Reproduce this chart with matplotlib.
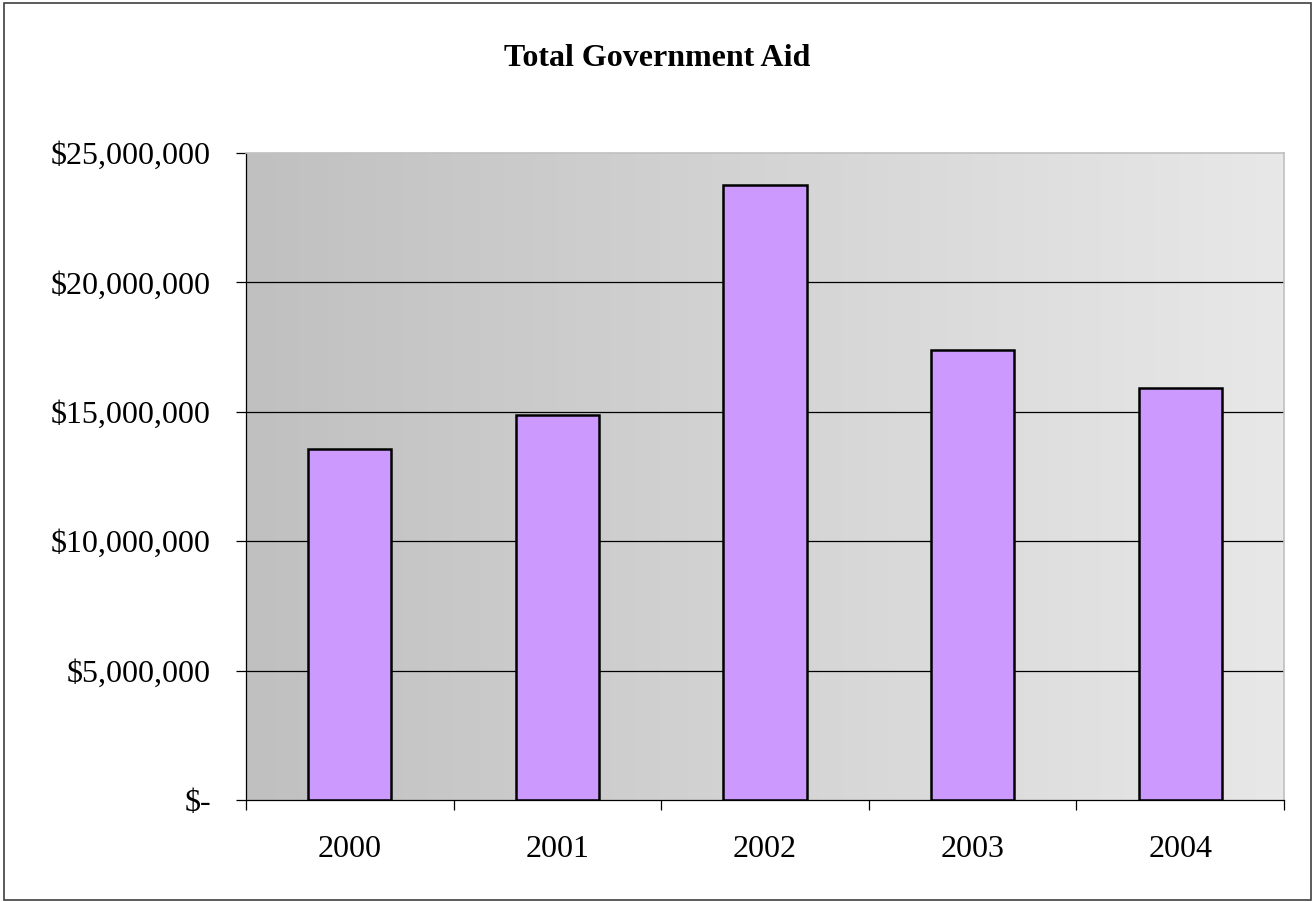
import numpy as np
import matplotlib
matplotlib.use("Agg")
import matplotlib.pyplot as plt
from matplotlib.ticker import FuncFormatter, FixedLocator
from matplotlib.patches import Rectangle

years = ["2000", "2001", "2002", "2003", "2004"]
aid = [13560000, 14890000, 23770000, 17380000, 15910000]
yticks = [0, 5000000, 10000000, 15000000, 20000000, 25000000]

plt.rcParams["font.family"] = ["Liberation Serif", "DejaVu Serif"]

fig = plt.figure(figsize=(13.15, 9.02), dpi=100)
ax = fig.add_axes([246/1315, 1 - 800/902, 1038/1315, 647/902])

x = np.arange(len(years))
ax.set_xlim(-0.5, len(years) - 0.5)
ax.set_ylim(yticks[0], yticks[-1])

# grey gradient background, dark on the left
grad = np.linspace(0, 1, 256).reshape(1, -1)
cmap = matplotlib.colors.LinearSegmentedColormap.from_list("bg", ["#c0c0c0", "#e8e8e8"])
ax.imshow(grad, cmap=cmap, aspect="auto", extent=[0, 1, 0, 1],
	transform=ax.transAxes, zorder=0)

for v in yticks[1:-1]:
	ax.axhline(v, color="black", lw=0.9, zorder=1)

ax.bar(x, aid, width=0.4, color="#cc99ff", edgecolor="black", linewidth=1.8, zorder=2)

fmt = lambda v, pos: "$-" if v == 0 else "${:,.0f}".format(v)
ax.yaxis.set_major_locator(FixedLocator(yticks))
ax.yaxis.set_major_formatter(FuncFormatter(fmt))
ax.tick_params(axis="y", direction="out", length=7.2, width=0.9, pad=18, labelsize=23)

ax.xaxis.set_major_locator(FixedLocator(np.arange(-0.5, len(years), 1.0)))
ax.xaxis.set_major_formatter(FuncFormatter(lambda v, pos: ""))
ax.xaxis.set_minor_locator(FixedLocator(x))
ax.set_xticklabels(years, minor=True)
ax.tick_params(axis="x", which="major", direction="out", length=7.2, width=0.9)
ax.tick_params(axis="x", which="minor", length=0, pad=25, labelsize=23)

for s in ["left", "bottom"]:
	ax.spines[s].set_color("black")
	ax.spines[s].set_linewidth(0.9)
for s in ["top", "right"]:
	ax.spines[s].set_color("#c0c0c0")
	ax.spines[s].set_linewidth(1.2)

fig.text(0.5, 1 - 59/902, "Total Government Aid", ha="center", va="center",
	fontsize=23, fontweight="bold")

fig.patches.append(Rectangle((0.003, 0.002), 0.994, 0.995, transform=fig.transFigure,
	fill=False, edgecolor="#404040", lw=1.2))

plt.savefig("out.png", dpi=100)
